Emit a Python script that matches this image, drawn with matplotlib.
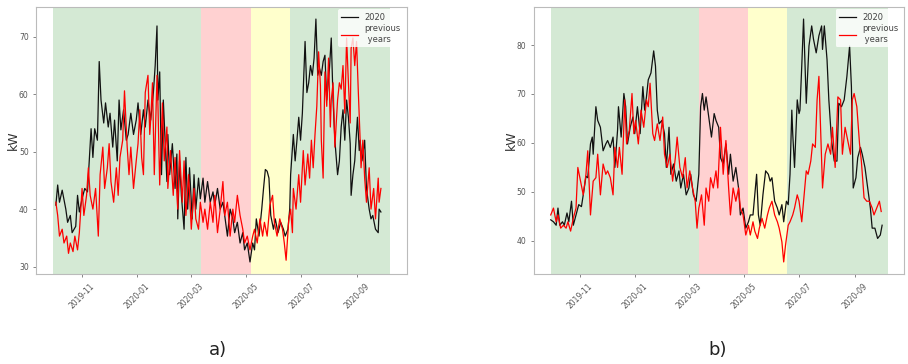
import numpy as np
import pandas as pd
import matplotlib
matplotlib.use('Agg')
import matplotlib.pyplot as plt
import matplotlib.dates as mdates

# ---- panel a) : days since start, kW ----
a_start = '2019-10-03'
a_2020_day = [0, 2, 4, 7, 11, 13, 16, 18, 22, 24, 26, 29, 32, 35, 37, 39, 41, 43, 46, 48, 50, 53, 55, 58,
              60, 63, 65, 68, 70, 72, 75, 78, 80, 83, 86, 89, 91, 94, 97, 99, 102, 105, 108, 110, 112, 113,
              115, 117, 119, 121, 123, 124, 126, 129, 132, 134, 135, 137, 139, 142, 144, 146, 148, 151, 153,
              155, 158, 160, 163, 165, 168, 171, 174, 176, 179, 182, 185, 187, 190, 193, 196, 198, 201, 204,
              207, 209, 212, 215, 218, 220, 222, 225, 228, 230, 232, 234, 236, 238, 241, 243, 246, 249, 252,
              254, 257, 259, 260, 263, 265, 267, 269, 271, 273, 274, 276, 278, 280, 282, 284, 286, 288, 290,
              292, 294, 296, 298, 300, 303, 305, 307, 309, 312, 314, 316, 318, 320, 322, 324, 326, 327, 329,
              331, 334, 336, 337, 339, 342, 344, 347, 349, 351, 354, 357, 358, 360]
a_2020 = [40.7, 44.2, 41.2, 43.3, 40.0, 37.7, 38.9, 35.9, 37.0, 42.4, 39.5, 41.8, 43.6, 43.0, 48.4, 54.0,
          49.0, 54.0, 52.0, 65.7, 59.0, 55.0, 58.5, 54.3, 56.7, 50.8, 55.5, 48.4, 59.0, 53.8, 57.3, 52.0,
          53.0, 56.7, 53.0, 55.5, 58.5, 53.0, 57.3, 54.3, 59.0, 55.5, 60.3, 65.0, 71.9, 59.0, 63.9, 46.0,
          59.0, 52.0, 44.8, 53.0, 46.0, 51.4, 43.6, 49.6, 38.3, 48.4, 42.4, 36.5, 49.0, 40.0, 47.2, 38.3,
          46.0, 40.0, 45.4, 41.8, 45.4, 41.2, 44.8, 41.2, 43.0, 40.7, 43.6, 40.0, 41.2, 38.9, 35.3, 40.0,
          38.3, 35.9, 37.7, 34.1, 35.9, 32.9, 34.1, 30.8, 34.1, 32.9, 38.3, 35.3, 40.0, 43.6, 46.9, 46.6,
          45.4, 38.9, 36.5, 38.3, 35.9, 37.7, 36.5, 35.3, 36.5, 40.0, 46.0, 53.0, 48.4, 52.0, 56.0, 52.0,
          56.7, 60.9, 69.2, 60.3, 62.0, 65.0, 63.3, 66.3, 73.1, 63.3, 64.5, 63.3, 65.7, 66.8, 59.0, 64.5,
          69.8, 59.0, 52.0, 46.0, 48.4, 54.3, 57.3, 52.0, 59.0, 56.0, 51.4, 42.4, 46.0, 48.4, 56.0, 50.2,
          52.0, 48.4, 52.0, 43.6, 40.0, 38.3, 38.9, 36.5, 35.9, 40.0, 39.5]
a_prev_day = [0, 2, 4, 7, 9, 12, 14, 16, 19, 21, 24, 26, 29, 31, 34, 36, 38, 41, 44, 47, 49, 52, 54, 57,
              59, 61, 64, 67, 69, 71, 74, 76, 79, 81, 83, 86, 89, 91, 93, 95, 97, 99, 102, 104, 105, 107,
              109, 112, 113, 115, 118, 120, 123, 124, 127, 130, 132, 135, 137, 140, 142, 144, 147, 150, 153,
              155, 158, 160, 163, 165, 168, 171, 174, 176, 179, 182, 185, 187, 190, 193, 196, 198, 201, 204,
              207, 209, 212, 215, 218, 220, 223, 226, 229, 231, 234, 237, 240, 242, 245, 248, 251, 253, 255,
              258, 260, 262, 263, 266, 269, 271, 274, 276, 279, 281, 283, 285, 287, 289, 291, 293, 294, 296,
              298, 300, 302, 304, 305, 307, 309, 312, 314, 316, 318, 320, 322, 324, 326, 327, 329, 331, 333,
              335, 337, 338, 340, 342, 344, 347, 349, 352, 354, 357, 358, 360]
a_prev = [41.2, 38.9, 35.3, 36.5, 34.1, 35.3, 32.3, 34.1, 32.6, 35.3, 32.9, 35.9, 43.6, 38.9, 42.4, 47.2,
          42.4, 40.0, 43.6, 35.3, 46.0, 50.8, 43.6, 47.2, 51.4, 44.8, 41.2, 47.2, 42.4, 49.0, 52.0, 60.6,
          50.8, 46.0, 50.8, 43.6, 48.4, 51.4, 57.3, 49.0, 46.0, 60.3, 63.3, 53.0, 55.5, 62.0, 46.0, 63.3,
          58.5, 44.2, 58.5, 48.4, 54.3, 43.6, 50.2, 42.4, 49.0, 40.0, 50.2, 41.2, 48.4, 38.9, 46.0, 36.5,
          43.6, 38.3, 36.5, 41.2, 37.7, 40.0, 36.5, 41.2, 37.7, 42.4, 35.9, 40.0, 44.8, 38.9, 41.2, 35.3,
          40.0, 37.7, 42.4, 38.9, 36.5, 34.1, 35.3, 32.9, 35.3, 36.5, 34.1, 38.3, 35.3, 37.7, 35.3, 40.7,
          42.4, 37.7, 35.3, 38.3, 36.5, 34.1, 31.1, 38.3, 40.0, 35.9, 43.6, 40.0, 46.0, 41.2, 50.2, 44.2,
          49.6, 45.4, 52.0, 47.2, 53.0, 57.9, 67.4, 61.5, 52.0, 45.4, 63.9, 57.9, 66.3, 54.3, 59.0, 62.0,
          50.8, 59.0, 62.0, 60.9, 65.0, 56.7, 69.8, 62.0, 55.0, 68.0, 69.8, 65.0, 69.2, 60.3, 52.0, 47.2,
          52.0, 45.4, 41.2, 47.2, 40.0, 43.6, 38.3, 45.4, 41.2, 43.6]

# ---- panel b) ----
b_start = '2019-09-30'
b_2020_day = [0, 3, 6, 8, 10, 13, 15, 18, 20, 23, 25, 28, 31, 34, 36, 39, 41, 44, 46, 47, 50, 52, 55, 58,
              61, 63, 66, 69, 71, 74, 75, 78, 81, 83, 85, 88, 91, 93, 96, 99, 102, 104, 106, 108, 111, 114,
              116, 118, 120, 123, 126, 128, 131, 133, 136, 139, 142, 144, 147, 150, 153, 155, 158, 161, 164,
              166, 168, 170, 172, 175, 178, 181, 183, 186, 188, 191, 194, 197, 199, 202, 205, 208, 210, 213,
              216, 219, 221, 224, 226, 228, 230, 232, 235, 238, 241, 243, 245, 248, 251, 253, 256, 258, 261,
              263, 265, 267, 268, 270, 273, 275, 276, 278, 280, 283, 286, 289, 291, 294, 297, 300, 301, 303,
              306, 308, 311, 314, 317, 319, 322, 325, 328, 331, 333, 335, 338, 340, 343, 345, 348, 351, 354,
              356, 359, 362, 365, 367]
b_2020 = [44.3, 43.9, 43.2, 46.7, 43.2, 43.9, 43.2, 45.7, 43.9, 48.1, 43.2, 45.3, 47.4, 47.0, 49.4, 53.2,
          52.9, 59.8, 61.2, 57.7, 67.4, 64.6, 63.2, 58.4, 59.8, 60.5, 59.1, 61.2, 55.0, 62.6, 67.4, 61.2,
          70.1, 67.4, 59.8, 63.2, 65.3, 61.9, 67.4, 61.9, 71.5, 66.7, 69.4, 72.9, 74.3, 78.8, 75.7, 66.7,
          63.9, 64.6, 61.9, 55.0, 63.2, 53.6, 55.7, 52.2, 54.3, 50.8, 53.6, 49.4, 50.8, 53.6, 49.4, 48.1,
          53.6, 67.4, 70.1, 66.7, 69.4, 65.3, 61.2, 66.0, 64.6, 63.2, 57.0, 55.7, 59.8, 53.6, 57.7, 52.2,
          55.0, 50.8, 45.3, 46.7, 42.6, 43.9, 45.3, 45.3, 49.4, 53.6, 45.3, 43.2, 49.4, 54.3, 53.6, 52.2,
          52.9, 48.1, 46.7, 45.3, 47.4, 43.9, 48.1, 47.4, 53.6, 66.7, 61.9, 55.0, 68.8, 66.0, 66.7, 75.7,
          85.3, 68.1, 79.8, 83.9, 81.2, 78.4, 81.9, 83.9, 79.1, 83.9, 77.0, 68.8, 60.5, 56.3, 56.3, 68.1,
          67.4, 68.8, 73.6, 79.8, 71.5, 50.8, 52.9, 57.0, 59.1, 57.7, 55.0, 50.8, 46.7, 42.6, 42.6, 40.5,
          41.2, 43.2]
b_prev_day = [0, 3, 6, 8, 11, 14, 17, 19, 22, 25, 28, 30, 33, 36, 39, 41, 44, 47, 50, 52, 55, 58, 61, 63,
              66, 69, 71, 74, 76, 79, 82, 84, 87, 90, 92, 94, 97, 100, 103, 106, 108, 110, 113, 115, 118,
              121, 124, 126, 129, 132, 135, 138, 140, 143, 146, 149, 151, 154, 157, 160, 162, 164, 167, 170,
              172, 175, 177, 180, 183, 185, 188, 191, 194, 197, 199, 202, 205, 208, 210, 213, 216, 219, 221,
              224, 226, 229, 231, 234, 237, 240, 242, 245, 248, 251, 253, 256, 258, 260, 263, 265, 268, 270,
              273, 275, 278, 280, 283, 285, 288, 290, 293, 295, 297, 299, 301, 304, 307, 310, 312, 315, 318,
              321, 323, 326, 329, 332, 334, 336, 339, 342, 344, 347, 350, 353, 356, 358, 361, 364, 366]
b_prev = [45.3, 46.7, 43.9, 45.3, 42.6, 43.2, 42.6, 43.9, 42.0, 44.6, 46.7, 55.0, 52.2, 49.4, 53.6, 58.4,
          45.3, 52.2, 52.9, 57.7, 49.4, 55.7, 53.6, 54.3, 52.9, 49.4, 59.1, 55.0, 59.1, 53.6, 68.8, 59.8,
          62.6, 70.1, 61.9, 64.6, 59.8, 66.7, 63.2, 68.8, 67.4, 72.2, 61.9, 60.5, 63.9, 60.5, 65.3, 57.7,
          55.0, 57.7, 52.2, 57.0, 61.2, 55.0, 52.9, 57.0, 50.8, 54.3, 50.8, 48.1, 42.6, 46.7, 49.4, 43.2,
          50.8, 48.1, 52.9, 50.8, 54.3, 50.8, 63.2, 53.6, 60.5, 50.8, 45.3, 50.8, 48.1, 50.8, 46.7, 45.3,
          41.2, 43.2, 41.2, 43.9, 42.0, 40.5, 42.6, 44.6, 42.6, 45.3, 46.7, 48.1, 45.3, 43.9, 42.6, 39.8,
          35.7, 39.1, 43.2, 43.9, 45.3, 46.7, 49.4, 48.1, 43.9, 48.1, 54.3, 53.6, 56.3, 59.8, 59.1, 68.8,
          73.6, 61.9, 50.8, 57.7, 59.8, 57.7, 63.2, 55.0, 69.4, 68.8, 57.7, 63.2, 60.5, 57.7, 68.8, 70.1,
          67.4, 59.8, 56.3, 48.8, 48.1, 48.1, 46.7, 45.3, 46.7, 48.1, 46.0]

# period shading: normal / lockdown / reopening / normal
span_edges = ['2019-09-30', '2020-03-12', '2020-05-06', '2020-06-18', '2020-10-07']
span_colors = ['green', 'red', 'yellow', 'green']
span_alpha = [0.17, 0.18, 0.2, 0.17]


def to_dates(start, days):
    return pd.Timestamp(start) + pd.to_timedelta(days, unit='D')


fig = plt.figure(figsize=(9.08, 3.64), dpi=100)
axa = fig.add_axes([0.040, 0.247, 0.408, 0.734])
axb = fig.add_axes([0.588, 0.247, 0.408, 0.734])

panels = [(axa, a_start, a_2020_day, a_2020, a_prev_day, a_prev),
          (axb, b_start, b_2020_day, b_2020, b_prev_day, b_prev)]

for ax, start, d1, v1, d2, v2 in panels:
    for i in range(4):
        ax.axvspan(pd.Timestamp(span_edges[i]), pd.Timestamp(span_edges[i + 1]),
                   color=span_colors[i], alpha=span_alpha[i], lw=0)
    ax.plot(to_dates(start, d1), v1, color='#111111', lw=0.9, label='2020')
    ax.plot(to_dates(start, d2), v2, color='red', lw=0.9, label='previous\n years')
    ax.xaxis.set_major_locator(mdates.MonthLocator(bymonth=[1, 3, 5, 7, 9, 11]))
    ax.xaxis.set_major_formatter(mdates.DateFormatter('%Y-%m'))
    ax.tick_params(axis='both', labelsize=5.5, colors='#555555', length=2, width=0.5)
    for lab in ax.get_xticklabels():
        lab.set_rotation(45)
    for s in ax.spines.values():
        s.set_color('#bbbbbb')
        s.set_linewidth(0.8)
    ax.set_ylabel('kW', fontsize=9, color='#333333', labelpad=-1)
    leg = ax.legend(loc='upper right', fontsize=6, frameon=True, framealpha=0.8,
                    edgecolor='none', handlelength=2.0, borderaxespad=0.3,
                    labelspacing=0.3)
    for t in leg.get_texts():
        t.set_color('#444444')

axa.set_yticks([30, 40, 50, 60, 70])
axb.set_yticks([40, 50, 60, 70, 80])

fig.text(0.240, 0.025, 'a)', fontsize=13, ha='center', color='#222222')
fig.text(0.790, 0.025, 'b)', fontsize=13, ha='center', color='#222222')

fig.savefig('out.png', dpi=100)
